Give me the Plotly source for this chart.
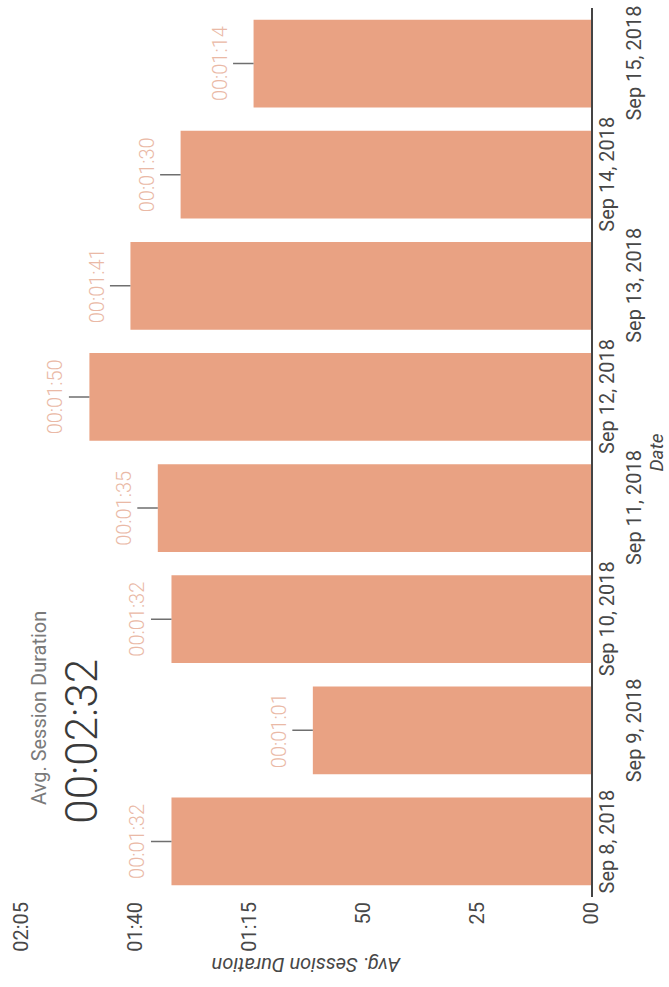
import plotly.graph_objects as go

# Average session duration per day, in seconds
dates = ["Sep 8, 2018", "Sep 9, 2018", "Sep 10, 2018", "Sep 11, 2018",
         "Sep 12, 2018", "Sep 13, 2018", "Sep 14, 2018", "Sep 15, 2018"]
avg_session_seconds = [92, 61, 92, 95, 110, 101, 90, 74]

# Overall scorecard value (seconds)
overall_avg_seconds = 152

# Value axis ticks
value_tickvals = [0, 25, 50, 75, 100, 125]
value_ticktext = ["00", "25", "50", "01:15", "01:40", "02:05"]

BAR_COLOR = "#E9A283"
LABEL_COLOR = "#EAB9A6"
FONT = "Roboto"


def hms(sec):
    h, rem = divmod(int(sec), 3600)
    m, s = divmod(rem, 60)
    return f"{h:02d}:{m:02d}:{s:02d}"


fig = go.Figure()
fig.add_trace(go.Bar(
    x=avg_session_seconds,
    y=dates,
    orientation="h",
    marker=dict(color=BAR_COLOR, line=dict(width=0)),
    hoverinfo="skip",
))

annotations = []

# value labels with short leader lines at each bar end
for d, v in zip(dates, avg_session_seconds):
    annotations.append(dict(
        x=v, y=d, xref="x", yref="y",
        text=hms(v), textangle=-90,
        showarrow=True, arrowhead=0, arrowwidth=1.4, arrowcolor="#6f6f6f",
        ax=-34, ay=0, standoff=0, startstandoff=0,
        font=dict(family=FONT, size=20, color=LABEL_COLOR, weight=300),
    ))

# staggered date tick labels on the category axis
for i, d in enumerate(dates):
    annotations.append(dict(
        x=1, y=d, xref="paper", yref="y",
        xanchor="center", yanchor="middle",
        xshift=16 if i % 2 == 0 else 43,
        text=d, textangle=-90, showarrow=False,
        font=dict(family=FONT, size=20, color="#474747"),
    ))

# axis titles
annotations.append(dict(
    x=1, y=0.5, xref="paper", yref="paper",
    xanchor="center", yanchor="middle", xshift=65,
    text="<i>Date</i>", textangle=-90, showarrow=False, borderpad=0,
    font=dict(family=FONT, size=19, color="#474747"),
))
annotations.append(dict(
    x=0.5, y=0, xref="paper", yref="paper",
    xanchor="center", yanchor="middle", yshift=-68,
    text="<i>Avg. Session Duration</i>", textangle=180, showarrow=False,
    font=dict(family=FONT, size=20, color="#474747"),
))

# scorecard
annotations.append(dict(
    x=0.0315, y=0.2126, xref="paper", yref="paper",
    xanchor="center", yanchor="middle",
    text="Avg. Session Duration", textangle=-90, showarrow=False,
    font=dict(family=FONT, size=20, color="#7a7a7a"),
))
annotations.append(dict(
    x=0.1066, y=0.1755, xref="paper", yref="paper",
    xanchor="center", yanchor="middle",
    text=hms(overall_avg_seconds), textangle=-90, showarrow=False,
    font=dict(family=FONT, size=44, color="#3a3a3a", weight=300),
))

fig.update_layout(
    width=669, height=987,
    margin=dict(l=19, r=78, t=8, b=90),
    paper_bgcolor="white", plot_bgcolor="white",
    showlegend=False,
    bargap=0.21,
    font=dict(family=FONT, size=20, color="#474747"),
    xaxis=dict(
        range=[125, 0], tickvals=value_tickvals, ticktext=value_ticktext,
        tickangle=-90, showgrid=False, zeroline=False, showline=False,
        ticks="", tickfont=dict(family=FONT, size=20, color="#474747"),
    ),
    yaxis=dict(
        type="category", side="right", range=[-0.5, 7.5],
        showticklabels=False, showgrid=False, zeroline=False,
        showline=True, linecolor="#444444", linewidth=1.5, ticks="",
    ),
    annotations=annotations,
)

fig.write_html("out.html")
